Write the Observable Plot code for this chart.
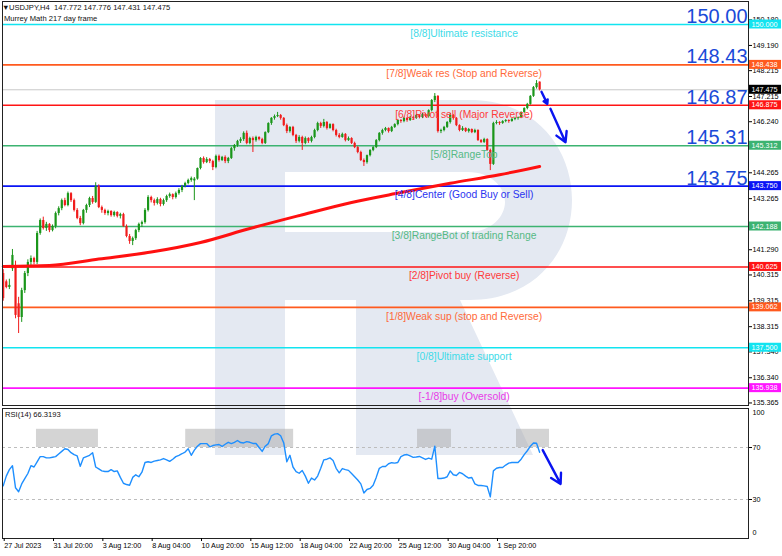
<!DOCTYPE html>
<html><head><meta charset="utf-8">
<script src="https://cdn.jsdelivr.net/npm/d3@7"></script>
<script src="https://cdn.jsdelivr.net/npm/@observablehq/plot@0.6"></script>
<style>
html,body{margin:0;padding:0;background:#fff;}
#wrap{position:relative;width:782px;height:556px;overflow:hidden;background:#fff;font-family:"Liberation Sans",Arial,sans-serif;}
#wrap svg{position:absolute;left:0;}
.hdr{position:absolute;font-size:7.6px;line-height:9px;color:#111;white-space:pre;}
</style></head><body><div id="wrap"></div>
<script>
// ---------------- data ----------------
const opens = [140.37,140.05,139.83,140.55,140.68,139.20,138.67,139.71,140.37,140.80,
140.95,140.80,141.92,142.42,142.11,142.27,142.03,142.19,142.69,142.88,
143.19,143.00,143.46,143.19,142.81,142.50,142.30,142.81,143.00,143.27,
143.12,143.74,142.92,142.81,142.69,142.77,142.61,142.73,142.58,142.65,
142.19,141.80,141.61,141.72,142.03,142.27,142.34,142.81,143.31,143.19,
143.08,143.23,143.04,143.19,143.35,143.42,143.31,143.46,143.58,143.74,
143.85,143.97,143.95,144.02,144.43,144.82,144.66,144.78,144.70,144.47,
144.90,144.74,144.86,144.70,144.82,145.20,145.32,145.48,145.55,145.79,
145.40,145.59,145.51,145.63,145.55,145.40,145.82,146.17,146.37,146.44,
146.48,146.37,146.09,145.86,146.02,145.71,145.48,145.63,145.40,145.59,
145.48,145.63,145.90,146.17,146.06,146.21,145.98,146.13,145.90,145.71,
145.63,145.75,145.51,145.59,145.40,145.24,145.05,144.74,144.66,144.93,
145.13,145.24,145.51,145.79,145.90,145.98,145.86,146.02,146.13,146.29,
146.25,146.37,146.29,146.40,146.37,146.48,146.40,146.52,146.44,146.67,
147.06,147.22,145.86,145.90,146.02,146.21,146.48,146.37,146.09,145.90,
145.98,145.86,145.94,145.82,145.90,145.51,145.44,145.55,145.13,144.59,
146.17,146.21,146.17,146.25,146.29,146.25,146.33,146.37,146.40,146.60,
146.75,146.91,147.22,147.56,147.772];
const highs = [140.52,140.12,140.15,141.30,140.85,139.45,139.80,140.45,140.90,141.05,
141.00,142.00,142.48,142.55,142.35,142.30,142.25,142.75,142.95,143.25,
143.28,143.52,143.50,143.25,142.88,142.58,142.85,143.05,143.32,143.35,
143.88,143.80,142.98,142.86,142.82,142.80,142.78,142.76,142.70,142.70,
142.25,141.88,141.78,142.08,142.32,142.40,142.88,143.38,143.36,143.25,
143.30,143.28,143.25,143.40,143.48,143.45,143.52,143.65,143.78,143.90,
144.02,144.10,144.08,144.45,144.85,144.88,144.85,144.82,144.75,144.95,
144.95,144.90,144.92,144.86,145.25,145.36,145.52,145.62,145.85,145.88,
145.64,145.65,145.68,145.66,145.60,145.85,146.20,146.40,146.50,146.60,
146.52,146.40,146.15,146.05,146.06,145.75,145.70,145.68,145.65,145.62,
145.68,145.95,146.22,146.22,146.33,146.25,146.16,146.16,145.95,145.78,
145.80,145.78,145.65,145.62,145.45,145.28,145.10,144.80,144.95,145.16,
145.28,145.55,145.82,145.95,146.02,146.00,146.06,146.16,146.33,146.32,
146.42,146.40,146.45,146.44,146.52,146.50,146.56,146.55,146.70,147.10,
147.33,147.25,145.95,146.06,146.25,146.56,146.52,146.40,146.12,146.05,
146.00,145.98,145.96,145.95,145.93,145.55,145.60,145.58,145.18,146.22,
146.28,146.24,146.28,146.32,146.31,146.36,146.40,146.42,146.62,146.78,
146.95,147.25,147.60,147.83,147.776];
const lows = [139.30,139.78,139.75,140.45,138.62,138.05,138.48,139.60,140.25,140.65,
140.70,140.72,141.85,142.05,142.00,141.95,141.98,142.10,142.60,142.80,
142.95,142.95,143.12,142.75,142.45,142.22,142.25,142.70,142.92,143.05,
143.08,142.88,142.70,142.62,142.60,142.55,142.55,142.52,142.48,142.15,
141.75,141.50,141.45,141.65,141.95,142.15,142.28,142.75,143.10,142.98,
143.02,142.95,142.98,143.12,143.28,143.22,143.25,143.40,143.50,143.68,
143.80,143.90,143.19,143.98,144.38,144.60,144.62,144.62,144.35,144.42,
144.68,144.70,144.62,144.62,144.78,145.10,145.25,145.40,145.48,145.35,
145.35,145.05,145.45,145.50,145.35,145.36,145.78,146.10,146.30,146.40,
146.30,146.05,145.78,145.80,145.66,145.40,145.42,145.13,145.35,145.40,
145.42,145.58,145.85,145.98,146.00,145.92,145.95,145.85,145.65,145.58,
145.60,145.46,145.48,145.36,145.20,145.00,144.70,144.51,144.60,144.88,
145.08,145.20,145.46,145.72,145.85,145.80,145.82,145.98,146.08,146.18,
146.20,146.22,146.25,146.30,146.33,146.35,146.36,146.40,146.38,146.62,
146.98,145.80,145.78,145.85,145.98,146.15,146.30,146.05,145.85,145.86,
145.82,145.80,145.78,145.78,145.48,145.40,145.40,145.10,144.35,144.55,
146.12,146.10,146.14,146.20,146.18,146.22,146.28,146.30,146.36,146.56,
146.70,146.88,147.18,147.50,147.431];
const closes = [139.40,139.83,139.91,141.07,138.75,138.67,139.71,140.37,140.80,140.95,
140.80,141.92,142.42,142.11,142.27,142.03,142.19,142.69,142.88,143.19,
143.00,143.46,143.19,142.81,142.50,142.30,142.81,143.00,143.27,143.12,
143.74,142.92,142.81,142.69,142.77,142.61,142.73,142.58,142.65,142.19,
141.80,141.61,141.72,142.03,142.27,142.34,142.81,143.31,143.19,143.08,
143.23,143.04,143.19,143.35,143.42,143.31,143.46,143.58,143.74,143.85,
143.97,144.04,144.02,144.43,144.82,144.66,144.78,144.70,144.47,144.90,
144.74,144.86,144.70,144.82,145.20,145.32,145.48,145.55,145.79,145.40,
145.59,145.51,145.63,145.55,145.40,145.82,146.17,146.37,146.44,146.48,
146.37,146.09,145.86,146.02,145.71,145.48,145.63,145.40,145.59,145.48,
145.63,145.90,146.17,146.06,146.21,145.98,146.13,145.90,145.71,145.63,
145.75,145.51,145.59,145.40,145.24,145.05,144.74,144.66,144.93,145.13,
145.24,145.51,145.79,145.90,145.98,145.86,146.02,146.13,146.29,146.25,
146.37,146.29,146.40,146.37,146.48,146.40,146.52,146.44,146.67,147.06,
147.22,145.86,145.90,146.02,146.21,146.48,146.37,146.09,145.90,145.98,
145.86,145.94,145.82,145.90,145.51,145.44,145.55,145.13,144.59,146.17,
146.21,146.17,146.25,146.29,146.25,146.33,146.37,146.40,146.60,146.75,
146.91,147.22,147.56,147.72,147.475];

// 217-period moving average, read at a few bar positions
const maBars = [0, 15, 31, 48, 64, 80, 96, 113, 129, 145, 161, 174];
const maVals = [140.64, 140.68, 140.93, 141.20, 141.57, 142.11, 142.61, 143.12, 143.50, 143.86, 144.19, 144.51];

// RSI(14) per bar
const rsiVals = [40.5,48,53,56,39,36,42,46,50,56,
55,59,63,63,62,62,62.5,63,65,67,
69,68.5,66,64.5,63.5,55.5,62,63,64,66,
55,53.5,52,51.5,51.5,53,51.5,52,47,42.5,
41.5,41,47,49,47.5,51,58.5,59,58.5,59.5,
60,60.5,61.5,60.5,59.3,61,63,64,65.2,66.5,
69,64,68,71,73,73,73,70.5,71.5,72,
72.3,70.8,72.5,74,73,74,75.4,73.8,73.5,74.5,
74,73.1,73.1,70,67,71,73,79,80.3,80.7,
79,73.5,59,64,55,51.5,50.2,52.3,48,42.5,
46.5,45,48,54,60.5,61,62,60,54,50.5,
53.8,53,52.4,50,47.5,45,42,35,37.7,38.5,
41,47,54,55.4,55.4,57.5,58.3,58,58.5,63,
64.2,64.6,63.5,62.4,62.7,63.1,62,60.8,61.8,61,
71,46.2,46.2,46.5,47.5,52,49,48.5,50.8,49.8,
48,46.5,46.9,42,40.8,40.8,40.5,40,32,52,
54,54.6,54.6,56.5,58,58.5,58.5,58.5,61,64.5,
67.5,71,73.5,73.3,66.32];

// Murrey Math levels
const levelValues = [150.000, 148.438, 146.875, 145.312, 143.750, 142.188, 140.625, 139.062, 137.500, 135.938];
const levelNames = ["[8/8]Ultimate resistance", "[7/8]Weak res (Stop and Reverse)", "[6/8]Pivot sell (Major Reverse)",
  "[5/8]RangeTop", "[4/8]Center (Good Buy or Sell)", "[3/8]RangeBot of trading Range", "[2/8]Pivot buy (Reverse)",
  "[1/8]Weak sup (stop and Reverse)", "[0/8]Ultimate support", "[-1/8]buy (Oversold)"];
const levelColors = ["#12e4f0", "#ff5a1e", "#ff1414", "#3cb371", "#0a14f5", "#3cb371", "#ff1414", "#ff5a1e", "#12e4f0", "#ff14ff"];
const levelTextColors = ["#3fdbe8", "#ff6a3a", "#ff3a3a", "#55b985", "#2a34f0", "#55b985", "#ff3a3a", "#ff6a3a", "#3fdbe8", "#e83ae8"];
const bigLabelValues = [150.000, 148.438, 146.875, 145.312, 143.750];
const bigLabelTexts = ["150.00", "148.43", "146.87", "145.31", "143.75"];
const currentPrice = 147.475;
// price scale ticks (those fully hidden behind the level boxes are left out)
const priceTicks = [150.180, 149.190, 148.215, 147.215, 146.240, 144.265, 143.265, 141.290, 140.315, 139.315, 138.315, 137.340, 136.340, 135.365];

// x axis labels (bar index -> label)
const labelBars = [0, 16, 32, 48, 64, 80, 96, 112, 128, 144, 160];
const labelTexts = ["27 Jul 2023", "31 Jul 20:00", "3 Aug 12:00", "8 Aug 04:00", "10 Aug 20:00", "15 Aug 12:00",
  "18 Aug 04:00", "22 Aug 20:00", "25 Aug 12:00", "30 Aug 04:00", "1 Sep 20:00"];

// RSI overbought zones (bar ranges)
const zoneStart = [10.8, 59.2, 134.4, 166.5];
const zoneEnd = [30.9, 94.2, 145.4, 177.2];
const zoneLow = 70, zoneHigh = 84;

// forecast arrows
const arrowX1 = [174.6, 177.5], arrowY1 = [147.40, 146.74];
const arrowX2 = [176.5, 182.4], arrowY2 = [146.93, 145.45];
const rsiArrowX1 = [175.0], rsiArrowY1 = [68], rsiArrowX2 = [180.8], rsiArrowY2 = [42];

// --------------- build ---------------
const FONT = "Liberation Sans, Arial, sans-serif";
const xDom = [-0.227, 241.75];
const yDom = [135.267, 150.889];
const levelTextBar = 149.5;
const GREEN = "#1a961a", RED = "#f01c1c";

const bars = closes.map((c, i) => ({i, o: opens[i], h: highs[i], l: lows[i], c, col: c >= opens[i] ? GREEN : RED}));
const ma = maBars.map((b, k) => ({i: b, v: maVals[k]}));
const rsi = rsiVals.map((v, i) => ({i, v}));
const lv = levelValues.map((v, k) => ({v, name: levelNames[k], color: levelColors[k], tcolor: levelTextColors[k]}));
const big = bigLabelValues.map((v, k) => ({v, t: bigLabelTexts[k]}));
const zones = zoneStart.map((a, k) => ({a, b: zoneEnd[k]}));
const arrows = arrowX1.map((x, k) => ({x1: x, y1: arrowY1[k], x2: arrowX2[k], y2: arrowY2[k]}));
const rsiArrows = rsiArrowX1.map((x, k) => ({x1: x, y1: rsiArrowY1[k], x2: rsiArrowX2[k], y2: rsiArrowY2[k]}));

const wrap = document.getElementById("wrap");

// watermark logo (decorative background)
const wm = d3.create("svg").attr("width", 782).attr("height", 556).style("top", "0px");
wm.append("path")
  .attr("d", "M215,100 H470 C535,100 572,148 572,200 C572,252 535,300 470,300 H460 L533,455 H356 V300 H285 V455 H215 Z M285,172 H468 C492,172 505,188 505,202 C505,216 492,232 468,232 H285 Z")
  .attr("fill", "#e4e9f2").attr("fill-rule", "evenodd");
wrap.appendChild(wm.node());

const main = Plot.plot({
  width: 782, height: 406,
  marginTop: 1, marginBottom: 1, marginLeft: 2, marginRight: 34,
  x: {domain: xDom, axis: null},
  y: {domain: yDom},
  style: {background: "transparent", fontFamily: FONT, overflow: "visible"},
  marks: [
    Plot.ruleY(lv, {y: "v", stroke: d => d.color, strokeWidth: 1.6}),
    Plot.ruleY([currentPrice], {stroke: "#c8c8c8", strokeWidth: 1}),
    Plot.ruleX(bars, {x: "i", y1: "l", y2: "h", stroke: d => d.col, strokeWidth: 1}),
    Plot.ruleX(bars, {x: "i", y1: "o", y2: "c", stroke: d => d.col, strokeWidth: 2.2}),
    Plot.line(ma, {x: "i", y: "v", stroke: "#ff1010", strokeWidth: 3, curve: "monotone-x"}),
    Plot.text(lv, {x: () => levelTextBar, y: "v", text: "name", fill: d => d.tcolor, dy: 9, fontSize: 10.3}),
    Plot.text(big, {x: () => xDom[1], y: "v", text: "t", textAnchor: "end", dx: -1, dy: -8, fontSize: 20, fill: "#1a4ad8"}),
    Plot.arrow(arrows, {x1: "x1", y1: "y1", x2: "x2", y2: "y2", stroke: "#0a14f0", strokeWidth: 2.4, headLength: 7}),
    Plot.frame({stroke: "#222"}),
    Plot.axisY({anchor: "right", ticks: priceTicks, tickFormat: d3.format(".3f"), tickSize: 3, tickPadding: 1, fontSize: 7.2, textAnchor: "start", label: null})
  ]
});
main.style.top = "0px";
wrap.appendChild(main);

// coloured price boxes on the right scale (positions from Plot's y scale)
{
  const ys = main.scale("y");
  const g = d3.select(main).append("g").attr("font-family", FONT).attr("font-size", 7.2).attr("text-anchor", "start");
  const boxes = lv.map(d => ({v: d.v, c: d.color})).concat([{v: currentPrice, c: "#000"}]);
  for (const b of boxes) {
    const y = ys.apply(b.v);
    g.append("rect").attr("x", 749).attr("y", y - 4.5).attr("width", 32).attr("height", 9).attr("fill", b.c);
    g.append("text").attr("x", 751.5).attr("y", y).attr("dy", "0.35em").attr("fill", "#fff").attr("text-anchor", "start").text(b.v.toFixed(3));
  }
}

const rsiPlot = Plot.plot({
  width: 782, height: 150,
  marginTop: 2, marginBottom: 18, marginLeft: 2, marginRight: 34,
  x: {domain: xDom},
  y: {domain: [0, 100]},
  style: {background: "transparent", fontFamily: FONT, overflow: "visible"},
  marks: [
    Plot.rect(zones, {x1: "a", x2: "b", y1: zoneLow, y2: zoneHigh, fill: "#a9a9a9", fillOpacity: 0.5}),
    Plot.ruleY([30, 70], {stroke: "#bdbdbd", strokeDasharray: "3,3"}),
    Plot.line(rsi, {x: "i", y: "v", stroke: "#1e8fff", strokeWidth: 1.4}),
    Plot.arrow(rsiArrows, {x1: "x1", y1: "y1", x2: "x2", y2: "y2", stroke: "#0a14f0", strokeWidth: 2.4, headLength: 7}),
    Plot.frame({stroke: "#222"}),
    Plot.axisX({anchor: "bottom", ticks: labelBars, tickFormat: d => labelTexts[labelBars.indexOf(d)], tickSize: 3, tickPadding: 1, textAnchor: "start", dx: 1, fontSize: 7.2, label: null}),
    Plot.axisY({anchor: "right", ticks: [30, 70], tickSize: 3, tickPadding: 1, fontSize: 7.2, textAnchor: "start", label: null}),
    Plot.text([100], {x: () => xDom[1], y: d => d, text: d => String(d), dx: 4, dy: 4, textAnchor: "start", fontSize: 7.2}),
    Plot.text([0], {x: () => xDom[1], y: d => d, text: d => String(d), dx: 4, dy: -6, textAnchor: "start", fontSize: 7.2})
  ]
});
rsiPlot.style.top = "406px";
wrap.appendChild(rsiPlot);

// header texts
function hdr(txt, left, top) {
  const d = document.createElement("div");
  d.className = "hdr"; d.textContent = txt;
  d.style.left = left + "px"; d.style.top = top + "px";
  wrap.appendChild(d);
}
hdr("\u25BC", 2, 3);
hdr("USDJPY,H4  147.772 147.776 147.431 147.475", 9, 3);
hdr("Murrey Math 217 day frame", 4, 14);
hdr("RSI(14) 66.3193", 5, 410);
</script></body></html>
